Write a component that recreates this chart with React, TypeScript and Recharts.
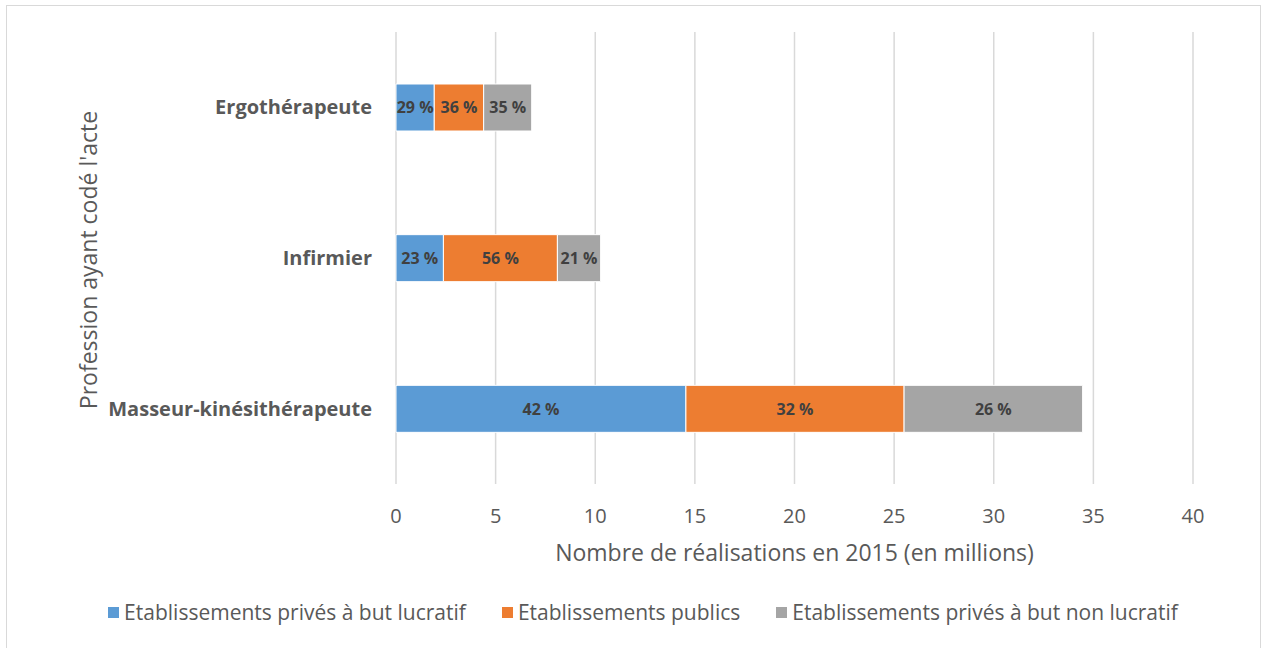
import React from "react";
import { BarChart, Bar, XAxis, YAxis, CartesianGrid, LabelList } from "recharts";

const categories = ["Ergothérapeute", "Infirmier", "Masseur-kinésithérapeute"];
const privesLucratif = [1.92, 2.38, 14.55];
const publics = [2.48, 5.72, 10.95];
const privesNonLucratif = [2.41, 2.17, 8.96];
const pctPrivesLucratif = ["29 %", "23 %", "42 %"];
const pctPublics = ["36 %", "56 %", "32 %"];
const pctPrivesNonLucratif = ["35 %", "21 %", "26 %"];
const xTicks = [0, 5, 10, 15, 20, 25, 30, 35, 40];
const seriesNames = [
  "Etablissements privés à but lucratif",
  "Etablissements publics",
  "Etablissements privés à but non lucratif",
];
const colors = ["#5B9BD5", "#ED7D31", "#A5A5A5"];

const data = categories.map((c, i) => ({
  name: c,
  a: privesLucratif[i],
  b: publics[i],
  c: privesNonLucratif[i],
  pa: pctPrivesLucratif[i],
  pb: pctPublics[i],
  pc: pctPrivesNonLucratif[i],
}));

const FONT = "'Open Sans', sans-serif";

const YTitle = () => (
  <text
    x={88}
    y={260}
    transform="rotate(-90 88 260)"
    textAnchor="middle"
    dominantBaseline="central"
    fill="#595959"
    fontSize={23}
    fontFamily={FONT}
  >
    Profession ayant codé l'acte
  </text>
);

export default function App() {
  const labelStyle = { fill: "#404040", fontSize: 16, fontWeight: 700, fontFamily: FONT };
  return (
    <div style={{ position: "absolute", left: 0, top: 0, width: 1264, height: 648, background: "#fff", overflow: "hidden" }}>
      <div style={{ position: "absolute", left: 6, top: 5, width: 1255, height: 700, border: "1px solid #D9D9D9", boxSizing: "border-box" }} />
      <div style={{ position: "absolute", left: 0, top: 0 }}>
        <BarChart
          width={1264}
          height={648}
          data={data}
          layout="vertical"
          margin={{ top: 32, right: 71, bottom: 84, left: 146 }}
          barSize={47}
        >
          <CartesianGrid horizontal={false} stroke="#D9D9D9" strokeWidth={1.5} />
          <XAxis
            type="number"
            domain={[0, 40]}
            ticks={xTicks}
            axisLine={false}
            tickLine={false}
            tickSize={0}
            tickMargin={25}
            height={80}
            tick={{ fill: "#595959", fontSize: 20, fontFamily: FONT }}
            label={{
              value: "Nombre de réalisations en 2015 (en millions)",
              position: "insideBottom",
              offset: 3,
              fill: "#595959",
              fontSize: 23,
              fontFamily: FONT,
            }}
          />
          <YAxis
            type="category"
            dataKey="name"
            width={250}
            axisLine={false}
            tickLine={false}
            tickSize={0}
            tickMargin={24}
            tick={{ fill: "#595959", fontSize: 20, fontWeight: 700, fontFamily: FONT }}
            label={<YTitle />}
          />
          <Bar dataKey="a" stackId="s" fill={colors[0]} stroke="#fff" strokeWidth={1} isAnimationActive={false} name={seriesNames[0]}>
            <LabelList dataKey="pa" position="center" style={labelStyle} />
          </Bar>
          <Bar dataKey="b" stackId="s" fill={colors[1]} stroke="#fff" strokeWidth={1} isAnimationActive={false} name={seriesNames[1]}>
            <LabelList dataKey="pb" position="center" style={labelStyle} />
          </Bar>
          <Bar dataKey="c" stackId="s" fill={colors[2]} stroke="#fff" strokeWidth={1} isAnimationActive={false} name={seriesNames[2]}>
            <LabelList dataKey="pc" position="center" style={labelStyle} />
          </Bar>
        </BarChart>
      </div>
      <div
        style={{
          position: "absolute",
          left: 0,
          top: 598,
          width: 1264,
          display: "flex",
          justifyContent: "center",
          gap: 36,
          fontFamily: FONT,
          fontSize: 21,
          color: "#595959",
          lineHeight: "28px",
          paddingLeft: 22,
          boxSizing: "border-box",
        }}
      >
        {seriesNames.map((n, i) => (
          <div key={n} style={{ display: "flex", alignItems: "center" }}>
            <span style={{ display: "inline-block", width: 11, height: 11, background: colors[i], marginRight: 5 }} />
            <span>{n}</span>
          </div>
        ))}
      </div>
    </div>
  );
}
